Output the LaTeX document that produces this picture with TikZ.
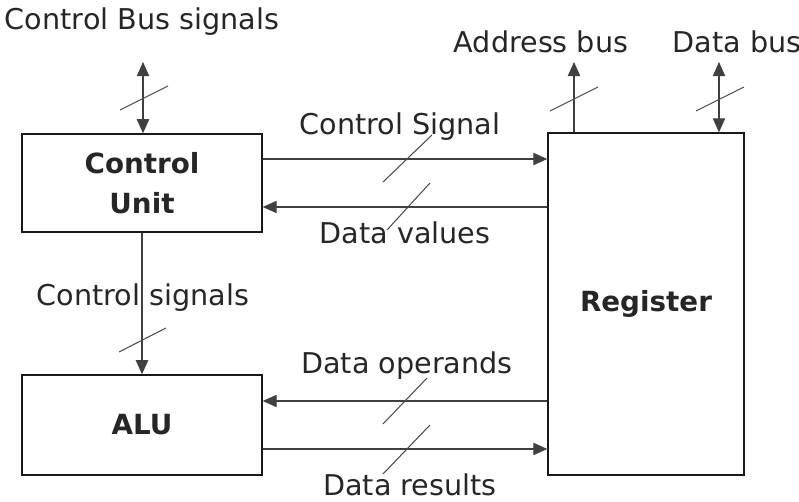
\documentclass[tikz,border=0pt]{standalone}
\usepackage{fontspec}
\setmainfont{DejaVu Sans}
\usetikzlibrary{arrows.meta}
\begin{document}
\begin{tikzpicture}
[x=0.02cm,y=-0.02cm,
  unitBox/.style={draw=black!90,thick,align=center,font=\fontsize{15.8}{22.5}\selectfont\bfseries,text=black!85},
  sigLine/.style={draw=black!75,semithick,-{Triangle[width=7pt,length=8pt]}},
  busLine/.style={draw=black!75,semithick,{Triangle[width=7pt,length=8pt]}-{Triangle[width=7pt,length=8pt]}},
  slashLine/.style={draw=black!70,semithick},
  labelText/.style={font=\fontsize{16.3}{19}\selectfont,text=black!85,inner sep=0pt}]
\useasboundingbox (0,0) rectangle (799,502);
%% blocks
\node (cu) at (142,183) [unitBox,minimum width=4.8cm,minimum height=1.96cm] {Control\\Unit};
\node (alu) at (142,425) [unitBox,minimum width=4.8cm,minimum height=2cm] {ALU};
\node (reg) at (646,304) [unitBox,minimum width=3.92cm,minimum height=6.84cm] {Register};
%% free ends of the buses
\coordinate (cbus) at (143,62);
\coordinate (abus) at (574,62);
\coordinate (dbus) at (719,62);
%% connectors
\draw[busLine] (cbus) -- (cu.north -| cbus);
\draw[sigLine] (reg.north -| abus) -- (abus);
\draw[busLine] (dbus) -- (reg.north -| dbus);
\draw[sigLine] ([yshift=0.48cm]cu.east) -- ([yshift=0.48cm]cu.east -| reg.west);
\draw[sigLine] ([yshift=-0.48cm]cu.east -| reg.west) -- ([yshift=-0.48cm]cu.east);
\draw[sigLine] (cu.south) -- (alu.north);
\draw[sigLine] ([yshift=0.48cm]alu.east -| reg.west) -- ([yshift=0.48cm]alu.east);
\draw[sigLine] ([yshift=-0.48cm]alu.east) -- ([yshift=-0.48cm]alu.east -| reg.west);
%% bus width slashes
\foreach \xa/\ya/\xb/\yb in {
  120/110/168/86, 550/111/598/87, 696/111/744/87, 119/352/166/328,
  383/182/432/135, 387/230/430/183, 383/424/427/378, 383/474/430/425}
{
  \draw[slashLine] (\xa,\ya) -- (\xb,\yb);
}
%% labels
\node (lcbus) at (142,22) [labelText] {Control Bus signals};
\node (labus) at (541,42) [labelText] {Address bus};
\node (ldbus) at (737,42) [labelText] {Data bus};
\node (lcsig) at (400,127) [labelText] {Control Signal};
\node (ldval) at (405,233) [labelText] {Data values};
\node (lcsigs) at (143,298) [labelText] {Control signals};
\node (ldop) at (407,366) [labelText] {Data operands};
\node (ldres) at (410,485) [labelText] {Data results};
\end{tikzpicture}
\end{document}
